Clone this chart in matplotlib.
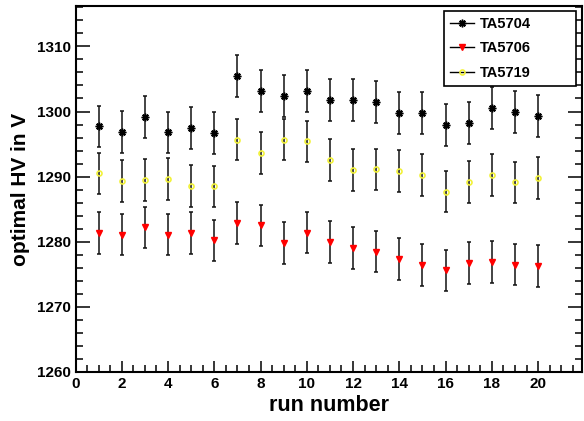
import numpy as np
import matplotlib
matplotlib.use("Agg")
import matplotlib.pyplot as plt
from matplotlib.ticker import MultipleLocator

plt.rcParams['font.family'] = ['Liberation Sans', 'DejaVu Sans']
plt.rcParams['font.weight'] = 'bold'

# run numbers
runs = np.arange(1, 21)

# optimal HV per run
ta5704 = [1297.7, 1296.9, 1299.2, 1296.8, 1297.5, 1296.7, 1305.5, 1303.2, 1302.4, 1303.1,
          1301.8, 1301.8, 1301.5, 1299.8, 1299.8, 1297.9, 1298.2, 1300.5, 1299.9, 1299.3]
ta5706 = [1281.3, 1281.1, 1282.2, 1281.1, 1281.3, 1280.2, 1282.9, 1282.5, 1279.8, 1281.4,
          1280.0, 1279.0, 1278.5, 1277.3, 1276.4, 1275.6, 1276.7, 1276.9, 1276.5, 1276.3]
ta5719 = [1290.5, 1289.3, 1289.5, 1289.6, 1288.6, 1288.5, 1295.7, 1293.6, 1295.7, 1295.4,
          1292.6, 1291.0, 1291.1, 1290.9, 1290.3, 1287.7, 1289.2, 1290.3, 1289.1, 1289.8]
err = 3.2

fig = plt.figure(figsize=(5.84, 4.21), dpi=100)
ax = fig.add_axes([0.1293, 0.1164, 0.8673, 0.8693])

ebar = dict(fmt='none', ecolor='#111111', elinewidth=1.1, capsize=1.5, capthick=1.1)
# black asterisks
ax.errorbar(runs, ta5704, yerr=err, **ebar)
ax.plot(runs, ta5704, ls='none', marker=(8, 2, 0), ms=5.5, mec='black', mew=1.1)
# red triangles
ax.errorbar(runs, ta5706, yerr=err, **ebar)
ax.plot(runs, ta5706, ls='none', marker='v', ms=5, mfc='red', mec='red')
# yellow open circles
ax.errorbar(runs, ta5719, yerr=err, **ebar)
ax.plot(runs, ta5719, ls='none', marker='o', ms=3.6, mfc='none', mec='#f2f23a', mew=1.2)

# legend proxies
h1, = ax.plot([], [], color='black', lw=1, marker=(8, 2, 0), ms=5.5, mec='black', mew=1.1)
h2, = ax.plot([], [], color='black', lw=1, marker='v', ms=5, mfc='red', mec='red')
h3, = ax.plot([], [], color='black', lw=1, marker='o', ms=3.6, mfc='none', mec='#f2f23a', mew=1.2)
leg = ax.legend([h1, h2, h3], ['TA5704', 'TA5706', 'TA5719'], loc='upper left',
                bbox_to_anchor=(0.727, 0.784, 0.262, 0.202), mode='expand',
                fancybox=False, framealpha=1, edgecolor='black', fontsize=10.5,
                handlelength=1.7, handletextpad=0.35, labelspacing=0.72,
                borderpad=0.4, borderaxespad=0)
leg.get_frame().set_linewidth(1.2)

ax.set_xlim(0, 21.9)
ax.set_ylim(1260, 1316.2)
ax.xaxis.set_major_locator(MultipleLocator(2))
ax.xaxis.set_minor_locator(MultipleLocator(0.5))
ax.yaxis.set_major_locator(MultipleLocator(10))
ax.yaxis.set_minor_locator(MultipleLocator(2))
ax.tick_params(which='both', direction='in', top=False, right=True, labelsize=11, width=1.1)
ax.tick_params(axis='y', which='major', length=10)
ax.tick_params(axis='x', which='major', length=8)
ax.tick_params(which='minor', length=5)
for s in ax.spines.values():
    s.set_linewidth(1.5)

ax.set_xlabel('run number', fontsize=15.5, fontweight='bold', labelpad=3)
ax.set_ylabel('optimal HV in V', fontsize=15, fontweight='bold', labelpad=5)

fig.savefig('out.png', dpi=100)
